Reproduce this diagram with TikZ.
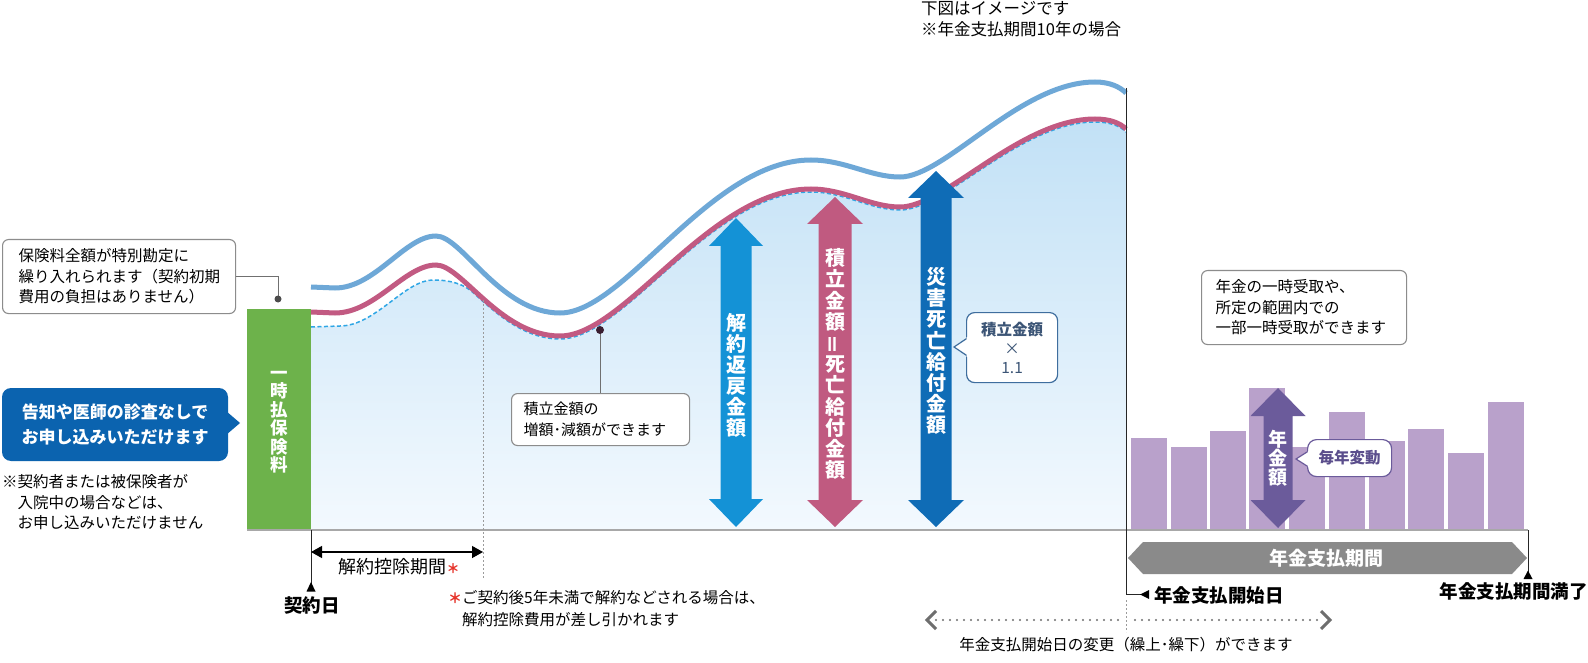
\documentclass[tikz,border=0pt]{standalone}
\usepackage{graphicx}
\usepackage{fontspec}
\setmainfont{Noto Sans CJK JP}
\usetikzlibrary{arrows.meta}
\definecolor{cGreen}{HTML}{6DB24B}
\definecolor{cNavy}{HTML}{0B63AF}
\definecolor{cCurveBlue}{HTML}{6EA8D7}
\definecolor{cPink}{HTML}{C25A82}
\definecolor{cDash}{HTML}{2EA6E5}
\definecolor{cFillTop}{HTML}{C2E1F6}
\definecolor{cFillBot}{HTML}{F3F9FE}
\definecolor{cArrLight}{HTML}{1492D6}
\definecolor{cArrPink}{HTML}{C05A80}
\definecolor{cArrDark}{HTML}{0F6CB6}
\definecolor{cBar}{HTML}{B9A1CB}
\definecolor{cPurple}{HTML}{6B5B9B}
\definecolor{cPurpleTxt}{HTML}{5B4E8C}
\definecolor{cPeriod}{HTML}{8A8A8A}
\definecolor{cBase}{HTML}{A8A8A8}
\definecolor{cBoxLine}{HTML}{8C8C8C}
\definecolor{cCallBlue}{HTML}{3F6E9E}
\definecolor{cCallText}{HTML}{3C5576}
\definecolor{cRed}{HTML}{E6332A}
\definecolor{cDot}{HTML}{3A1E30}
\definecolor{cLead}{HTML}{707070}
\definecolor{cChev}{HTML}{6E6E6E}
\newcommand\pathBlue{(311,287) -- (335,288) .. controls (375,288) and (405,236) .. (436,236) .. controls (462,236) and (500,313) .. (560,313) .. controls (625,313) and (710,160) .. (811,160) .. controls (845,160) and (870,177) .. (900,177) .. controls (945,177) and (1020,82) .. (1095,82) .. controls (1110,82) and (1120,87) .. (1126,93)}
\newcommand\pathPink{(311,312) -- (335,313) .. controls (375,313) and (405,265) .. (436,265) .. controls (462,265) and (500,336) .. (560,336) .. controls (625,336) and (710,189) .. (811,189) .. controls (845,189) and (870,207) .. (900,207) .. controls (945,207) and (1020,119) .. (1095,119) .. controls (1110,119) and (1120,123) .. (1126,129)}
\newcommand\pathDash{(311,327) -- (340,326) .. controls (375,326) and (405,280) .. (433,280) .. controls (450,280) and (463.6,283.8) .. (473.6,293) .. controls (495.9,313.2) and (524,339) .. (560,339) .. controls (625,339) and (710,192) .. (811,192) .. controls (845,192) and (870,210) .. (900,210) .. controls (945,210) and (1020,122) .. (1095,122) .. controls (1110,122) and (1120,126) .. (1126,132)}
\newcommand\bigdarrow[7]{%
\fill[#1] (#2,#3) -- ({#2+#5},{#3+#7}) -- ({#2+#6},{#3+#7}) -- ({#2+#6},{#4-#7}) -- ({#2+#5},{#4-#7}) -- (#2,#4) -- ({#2-#5},{#4-#7}) -- ({#2-#6},{#4-#7}) -- ({#2-#6},{#3+#7}) -- ({#2-#5},{#3+#7}) -- cycle;}
\tikzset{
  notebox/.style={draw=cBoxLine, line width=1.1pt, rounded corners=6pt, fill=white, align=left,
    font=\fontsize{15.5}{20.5}\selectfont, inner ysep=0pt},
  plain/.style={inner sep=0pt, align=left, font=\fontsize{15.5}{21}\selectfont},
  boldlbl/.style={inner sep=0pt, font=\bfseries\fontsize{18.5}{20}\selectfont},
  vtxt/.style={inner sep=0pt, align=center, text=white},
  leader/.style={draw=cLead, line width=0.9pt},
  marker/.style={draw=black!85, line width=0.8pt},
}
\begin{document}
\begin{tikzpicture}[x=1pt,y=-1pt]
\useasboundingbox (0,0) rectangle (1588,663);
\fill[white] (0,0) rectangle (1588,663);

% top note
\node[plain, anchor=west, font=\fontsize{16.5}{21}\selectfont] (topnote) at (921,19.5) {下図はイメージです\\※年金支払期間10年の場合};

% fill under curves
\shade[top color=cFillTop, bottom color=cFillBot] \pathDash -- (1126,530) -- (311,530) -- cycle;
\draw[cDash, line width=1.5pt, dash pattern=on 4pt off 2.5pt] \pathDash;
\draw[cCurveBlue, line width=5pt] \pathBlue;
\draw[cPink, line width=5pt] \pathPink;

% green bar
\node[fill=cGreen, minimum width=64pt, minimum height=220pt, anchor=north west, inner sep=0pt] (green) at (247,309) {};
\node[vtxt, font=\bfseries\fontsize{17.5}{18.5}\selectfont] (greentxt) at (279,422) {一\\時\\払\\保\\険\\料};

% baseline
\draw[cBase, line width=2.6pt] (247,530) -- (1528,530);

% top-left box
\node[notebox, anchor=north west, minimum width=233pt, minimum height=74pt, inner xsep=16pt, text width=201pt] (tlbox) at (2,239)
  {保険料全額が特別勘定に\\繰り入れられます（契約初期\\費用の負担はありません）};
\coordinate (tldot) at (278,299);
\draw[leader] (tlbox.east) -| (tldot);
\fill[black!70] (tldot) circle (3.5pt);

% blue callout
\node[fill=cNavy, rounded corners=9pt, minimum width=226pt, minimum height=73pt, align=center, text=white,
  font=\bfseries\fontsize{17}{25}\selectfont, inner sep=0pt] (navy) at (115,424.5)
  {告知や医師の診査なしで\\お申し込みいただけます};
\fill[cNavy] (226,411) -- (240,423) -- (226,435) -- cycle;

% note under callout
\node[plain, anchor=west, font=\fontsize{15.5}{20.5}\selectfont] (leftnote) at (2,502.5)
  {※契約者または被保険者が\\\hspace*{15.5pt}入院中の場合などは、\\\hspace*{15.5pt}お申し込みいただけません};

% contract date marker
\coordinate (kstart) at (311,530);
\coordinate (kend) at (311,586);
\draw[marker] (kstart) -- (kend);
\fill[black] (311,582) -- (315.5,591.5) -- (306.5,591.5) -- cycle;
\node[boldlbl] (keiyaku) at (312,605) {契約日};

% surrender deduction period
\coordinate (dA) at (311,552);
\coordinate (dB) at (483,552);
\coordinate (dTop) at (483,300);
\coordinate (dBot) at (483,578);
\draw[cLead!70, line width=0.6pt, dash pattern=on 2pt off 2pt] (dTop) -- (dBot);
\draw[black, line width=1.3pt, {Triangle[width=12pt,length=11pt]}-{Triangle[width=12pt,length=11pt]}] (dA) -- (dB);
\node[inner sep=0pt, font=\fontsize{18}{20}\selectfont] (kjlabel) at (399,567) {解約控除期間\textcolor{cRed}{\bfseries\fontsize{13}{13}\selectfont＊}};
\node[plain, anchor=west, font=\fontsize{15.5}{22}\selectfont] (kjnote) at (448,609)
  {\textcolor{cRed}{\bfseries\fontsize{14}{14}\selectfont＊}ご契約後5年未満で解約などされる場合は、\\\hspace*{14pt}解約控除費用が差し引かれます};

% accumulated amount callout
\coordinate (accdot) at (600,330);
\node[notebox, anchor=north west, minimum width=178pt, minimum height=52pt, inner xsep=12pt, text width=154pt,
  font=\fontsize{15}{21}\selectfont] (accbox) at (511,393) {積立金額の\\増額･減額ができます};
\draw[leader] (accdot) -- (accbox.north -| accdot);
\fill[cDot] (accdot) circle (4pt);

% big arrows
\bigdarrow{cArrLight}{736}{218}{527}{27}{15.5}{28}
\bigdarrow{cArrPink}{835}{197}{527}{28}{16.5}{27}
\bigdarrow{cArrDark}{936}{171}{527}{28}{15.5}{27}
\node[vtxt, font=\bfseries\fontsize{20}{21}\selectfont] (a1txt) at (736,375) {解\\約\\返\\戻\\金\\額};
\node[vtxt, font=\bfseries\fontsize{20}{21.2}\selectfont] (a2txt) at (835,364) {積\\立\\金\\額\\\rotatebox[origin=c]{90}{＝}\\死\\亡\\給\\付\\金\\額};
\node[vtxt, font=\bfseries\fontsize{20}{21.1}\selectfont] (a3txt) at (936,351) {災\\害\\死\\亡\\給\\付\\金\\額};

% x1.1 callout
\node[draw=cCallBlue, line width=1.2pt, fill=white, rounded corners=8pt, anchor=north west, minimum width=91pt, minimum height=70pt,
  align=center, text=cCallText, inner sep=0pt, font=\fontsize{15.5}{19}\selectfont] (mult) at (966,312)
  {\textbf{積立金額}\\×\\1.1};
\fill[white] (969,335.75) -- (954,347) -- (969,358.25) -- cycle;
\draw[cCallBlue, line width=1.2pt] (966.5,338.6) -- (954,347) -- (966.5,355.4);

% annuity start vertical line
\coordinate (vTop) at (1126,88);
\coordinate (vCorner) at (1126,594.5);
\coordinate (vEnd) at (1141,594.5);
\draw[marker] (vTop) -- (vCorner) -- (vEnd);
\fill[black] (1140,594.5) -- (1149,590) -- (1149,599) -- cycle;
\node[boldlbl, anchor=west] (startlbl) at (1154,595) {年金支払開始日};

% bars
\foreach \bx/\bt in {1131/438, 1171/447, 1210/431, 1249/388, 1289/447, 1329/412, 1369/441, 1408/429, 1448/453, 1488/402}{
  \fill[cBar] (\bx,\bt) rectangle ({\bx+36},528.8);
}
\bigdarrow{cPurple}{1278}{388}{528}{27.5}{14.5}{28}
\node[vtxt, font=\bfseries\fontsize{19}{19}\selectfont] (nktxt) at (1278,458) {年\\金\\額};

% yearly change callout
\node[draw=cPurple, line width=1.2pt, fill=white, rounded corners=9pt, anchor=north west, minimum width=84pt, minimum height=37pt,
  text=cPurpleTxt, inner sep=0pt, font=\bfseries\fontsize{15.5}{18}\selectfont] (yearly) at (1307,439) {毎年変動};
\fill[white] (1310,450.1) -- (1296,459) -- (1310,467.9) -- cycle;
\draw[cPurple, line width=1.2pt] (1307.6,451.6) -- (1296,459) -- (1307.6,466.4);

% right box
\node[notebox, anchor=north west, minimum width=205pt, minimum height=74pt, inner xsep=14pt, text width=177pt] (rbox) at (1201,270)
  {年金の一時受取や、\\所定の範囲内での\\一部一時受取ができます};

% annuity period arrow
\fill[cPeriod] (1128,558) -- (1143,542) -- (1512,542) -- (1527,558) -- (1512,574) -- (1143,574) -- cycle;
\node[inner sep=0pt, text=white, font=\bfseries\fontsize{19}{20}\selectfont] (period) at (1326,558) {年金支払期間};

% end marker
\coordinate (eTop) at (1528,530);
\coordinate (eBot) at (1528,573);
\draw[marker] (eTop) -- (eBot);
\fill[black] (1528,570.5) -- (1532.5,579) -- (1523.5,579) -- cycle;
\node[boldlbl, anchor=east] (endlbl) at (1588,591) {年金支払期間満了};

% change of start date
\coordinate (cL) at (927,620);
\coordinate (cR) at (1330,620);
\coordinate (cMid) at (1126,600);
\coordinate (cMidB) at (1126,632);
\draw[cLead!70, line width=0.6pt, dash pattern=on 2pt off 2pt] (cMid) -- (cMidB);
\draw[cChev, line width=2.4pt, line cap=round, dash pattern=on 0pt off 7pt] (936,620) -- (1119,620);
\draw[cChev, line width=2.4pt, line cap=round, dash pattern=on 0pt off 7pt] (1135,620) -- (1322,620);
\draw[cChev, line width=3pt] (936,611) -- (cL) -- (936,629);
\draw[cChev, line width=3pt] (1321,611) -- (cR) -- (1321,629);
\node[inner sep=0pt, font=\fontsize{15.5}{18}\selectfont] (changetxt) at (1126,645) {年金支払開始日の変更（繰上･繰下）ができます};
\end{tikzpicture}
\end{document}
